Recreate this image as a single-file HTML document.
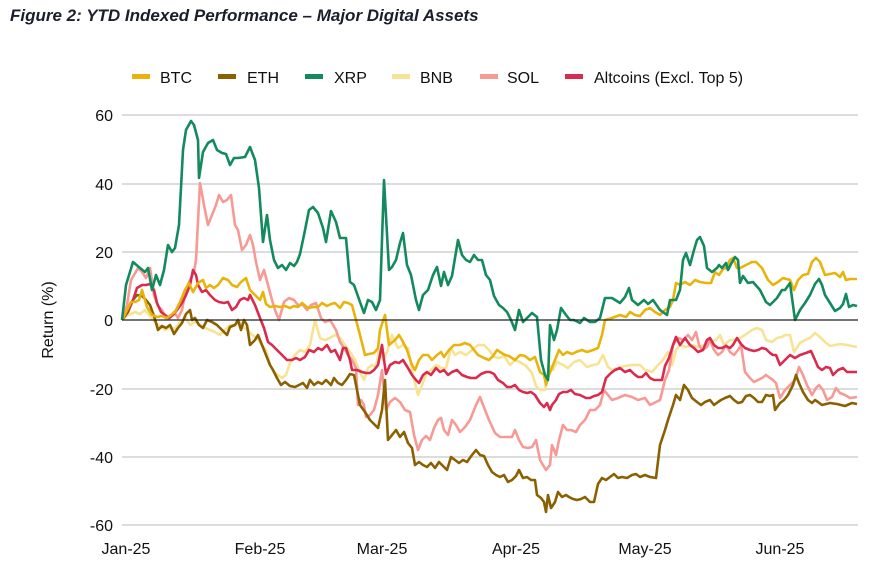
<!DOCTYPE html>
<html><head><meta charset="utf-8"><style>
html,body{margin:0;padding:0;background:#fff;}
svg{display:block;font-family:"Liberation Sans",Arial,sans-serif;}
</style></head><body>
<svg width="884" height="575" viewBox="0 0 884 575" xmlns="http://www.w3.org/2000/svg">
<text x="10" y="21" font-size="17" font-weight="bold" font-style="italic" fill="#1b1f2b">Figure 2: YTD Indexed Performance – Major Digital Assets</text>
<g font-size="16" fill="#111">
<rect x="132" y="74" width="18" height="5" fill="#e8b40c"/><text x="160" y="83">BTC</text>
<rect x="218" y="74" width="18" height="5" fill="#8a6000"/><text x="247" y="83">ETH</text>
<rect x="305" y="74" width="18" height="5" fill="#138a5e"/><text x="334" y="83">XRP</text>
<rect x="392" y="74" width="18" height="5" fill="#f7e394"/><text x="420" y="83">BNB</text>
<rect x="480" y="74" width="18" height="5" fill="#f79a96"/><text x="507" y="83">SOL</text>
<rect x="565" y="74" width="18" height="5" fill="#d92b4e"/><text x="594" y="83">Altcoins (Excl. Top 5)</text>
</g>
<g stroke="#d0d0d0" stroke-width="1.5">
<line x1="122" x2="858" y1="115" y2="115"/><line x1="122" x2="858" y1="184" y2="184"/><line x1="122" x2="858" y1="252" y2="252"/><line x1="122" x2="858" y1="389" y2="389"/><line x1="122" x2="858" y1="457" y2="457"/><line x1="122" x2="858" y1="525" y2="525"/>
</g>
<g font-size="16" fill="#111" text-anchor="end">
<text x="113" y="121">60</text><text x="113" y="190">40</text><text x="113" y="258">20</text><text x="113" y="326">0</text><text x="113" y="395">-20</text><text x="113" y="463">-40</text><text x="113" y="531">-60</text>
</g>
<text transform="translate(53,320) rotate(-90)" font-size="16" fill="#111" text-anchor="middle">Return (%)</text>
<g font-size="16" fill="#111" text-anchor="middle">
<text x="126" y="554">Jan-25</text><text x="260" y="554">Feb-25</text><text x="382" y="554">Mar-25</text><text x="516" y="554">Apr-25</text><text x="645" y="554">May-25</text><text x="780" y="554">Jun-25</text>
</g>
<g fill="none" stroke-width="2.6" stroke-linejoin="round">
<polyline stroke="#f7e394" points="122,320 128,315 135,312 140,314 145,310 150,316 155,322 160,326 165,330 170,327 175,329 180,322 186,318 190,325 195,322 200,325 205,328 210,330 215,332 220,335 225,330 230,325 235,325 240,322 244,328 248,330 252,335 257,338 262,345 266,350 270,365 274,372 278,375 282,378 286,375 290,363 295,355 300,350 305,352 310,345 315,320 320,338 325,340 330,338 335,335 340,338 345,345 350,352 355,360 360,372 364,380 368,368 372,365 376,367 379,350 383,360 387,352 392,335 398,348 403,345 408,348 413,375 418,395 422,385 426,375 431,370 436,365 441,368 446,368 451,348 455,355 460,352 466,355 472,350 478,345 484,345 489,350 494,357 499,358 504,356 510,365 515,360 520,362 526,366 532,373 536,386 540,390 545,390 549,365 553,370 557,362 563,365 568,368 574,362 580,360 587,367 593,365 598,364 603,355 608,367 612,370 618,368 625,366 632,365 640,365 645,370 652,372 658,365 663,360 668,352 672,365 676,350 680,345 686,347 692,345 698,347 704,345 710,342 716,340 720,335 724,345 730,340 735,340 740,338 745,335 752,330 757,328 762,330 766,340 772,342 777,338 782,337 785,335 790,335 794,352 800,343 805,340 810,338 815,333 820,337 825,342 830,346 835,345 840,344 847,345 857,347"/>
<polyline stroke="#f79a96" points="122,320 127,305 131,280 134,275 138,268 142,272 146,278 150,268 154,295 158,306 162,310 166,318 170,318 174,312 178,318 182,310 186,290 190,280 194,272 196,260 200,183 204,205 208,225 212,215 216,205 219,195 223,202 227,200 231,195 235,225 238,230 242,250 246,245 250,235 253,245 256,262 260,280 264,270 268,285 272,300 275,310 279,320 284,302 289,298 294,300 298,305 303,305 307,310 311,305 316,303 321,318 325,322 330,320 336,330 340,342 344,348 348,355 352,360 356,368 358,405 361,400 364,405 366,417 370,415 374,410 378,395 382,370 386,410 390,402 395,398 400,402 405,410 410,412 414,435 418,450 422,440 426,436 430,440 434,428 438,420 441,418 444,430 448,435 452,420 456,425 460,432 465,427 470,420 476,405 480,397 485,410 489,420 495,433 500,437 506,437 512,437 515,430 519,440 523,447 528,448 532,447 536,440 540,460 546,470 550,465 552,445 556,455 559,440 563,425 567,430 571,430 576,432 580,425 585,420 590,410 595,410 600,405 604,390 608,395 612,400 618,398 625,395 632,397 638,400 645,398 650,405 656,402 660,400 665,380 669,370 673,345 678,338 683,340 688,335 692,340 696,332 699,345 702,350 707,347 710,340 714,350 718,355 722,352 726,345 730,352 734,355 738,350 741,345 745,372 750,378 754,382 758,380 762,378 766,375 770,378 773,380 776,383 780,398 785,390 790,385 795,380 799,367 803,375 807,385 812,395 816,388 819,385 823,390 827,400 832,397 836,388 840,393 845,395 850,398 857,397"/>
<polyline stroke="#8a6000" points="122,320 128,312 133,300 137,295 142,296 146,300 150,305 154,316 158,330 162,326 166,328 170,325 174,334 178,328 182,323 186,314 190,310 192,320 195,318 199,325 203,328 207,320 212,322 217,325 222,330 227,335 230,327 235,325 238,320 241,330 244,320 247,325 250,345 255,340 258,335 262,345 266,355 270,365 273,370 277,378 281,385 285,382 290,386 295,387 299,385 303,383 307,388 310,380 314,385 318,382 322,384 326,380 331,385 334,378 338,383 342,385 346,380 350,374 354,375 357,390 360,405 365,412 370,420 375,425 378,428 382,410 385,380 388,440 392,435 396,430 400,437 404,432 408,443 412,448 415,465 419,462 423,465 427,467 431,463 435,468 439,462 443,466 447,470 451,457 455,460 459,463 463,460 467,462 472,455 476,450 480,455 484,456 488,465 492,472 496,475 500,477 504,475 508,482 512,480 516,476 519,470 523,478 527,477 531,480 535,480 537,495 541,498 544,502 546,512 548,495 551,508 555,502 558,492 562,497 566,495 569,497 573,499 577,500 581,499 585,497 590,502 594,502 598,484 602,478 606,480 610,477 614,474 618,478 622,477 627,478 632,475 636,474 640,477 645,475 650,477 656,478 660,445 665,430 668,420 673,405 676,395 680,400 684,385 688,390 692,398 697,402 701,405 705,402 710,400 714,405 718,402 721,400 725,398 730,396 734,400 738,403 742,402 746,396 750,395 754,398 758,402 762,402 766,395 770,396 773,395 775,410 780,403 784,400 788,395 793,385 796,375 799,383 803,392 808,400 812,403 815,400 818,402 822,405 830,403 837,404 845,406 852,403 857,404"/>
<polyline stroke="#d92b4e" points="122,320 128,310 133,300 137,288 142,285 146,285 150,284 154,290 157,303 161,312 165,315 169,318 173,315 177,310 182,303 186,295 190,285 193,270 196,275 198,285 202,292 206,290 210,295 215,300 219,302 224,303 228,302 232,310 236,307 240,300 244,298 248,300 250,295 255,305 260,318 264,328 268,342 272,345 277,350 282,355 287,360 292,360 296,358 300,360 305,357 309,350 314,352 318,348 322,350 327,345 331,352 335,350 340,360 343,348 346,348 350,360 352,370 357,370 362,372 366,373 370,373 374,370 378,365 382,345 386,374 390,365 395,362 399,363 403,360 408,368 412,375 416,380 419,383 423,375 427,372 431,375 436,368 440,372 444,370 448,375 452,372 457,370 462,375 467,377 471,378 476,378 481,374 486,372 490,372 494,374 498,380 503,383 507,387 511,387 515,385 519,390 523,392 527,393 531,392 535,395 540,403 544,407 547,403 550,410 552,405 556,400 559,394 563,392 567,392 571,390 575,394 580,395 586,398 590,398 594,396 598,395 602,392 606,378 611,373 615,370 620,368 625,372 630,370 634,374 638,377 642,377 646,373 650,378 654,380 658,380 662,380 665,366 669,358 673,345 676,337 680,345 685,338 690,345 694,348 698,352 703,350 707,340 710,338 714,345 718,348 722,348 726,346 730,348 733,345 737,338 741,344 745,348 750,350 754,351 758,350 762,348 766,349 770,353 773,355 776,355 780,365 785,360 790,355 795,358 800,355 806,353 811,351 815,360 818,367 822,370 826,367 830,368 833,375 838,370 843,368 847,372 852,372 857,372"/>
<polyline stroke="#e8b40c" points="122,320 127,310 131,302 135,302 139,300 142,290 147,307 152,315 157,317 162,316 167,318 171,315 175,312 180,302 185,290 189,283 193,292 198,283 203,280 206,288 210,285 214,288 218,285 223,278 228,280 232,285 237,287 241,282 246,278 250,290 255,295 260,300 263,292 266,304 270,307 275,306 280,307 285,306 290,308 294,306 298,307 302,303 308,308 314,307 318,307 322,303 327,306 331,304 335,303 340,308 344,302 348,303 352,305 356,320 360,335 365,355 369,354 374,353 378,348 380,330 385,315 389,345 395,340 399,335 402,340 407,350 412,365 415,370 419,360 423,355 428,355 432,360 437,355 441,352 444,357 449,350 454,345 460,345 465,343 470,345 474,350 478,355 484,358 489,360 493,356 497,350 500,352 505,355 509,356 515,360 520,355 525,356 530,360 535,357 540,372 544,375 546,385 549,375 553,365 555,360 559,350 563,355 567,352 572,354 576,352 582,350 587,352 593,350 598,348 602,335 605,320 612,318 620,315 626,317 630,312 635,315 640,316 645,310 650,308 655,312 660,315 665,310 670,307 673,300 676,283 680,285 685,282 690,285 695,280 700,282 706,283 711,283 715,272 719,275 723,269 726,268 730,260 733,258 737,268 740,268 746,265 752,262 756,262 762,268 768,280 773,285 778,282 783,278 790,280 794,290 798,280 803,275 808,274 812,262 816,258 820,262 825,275 830,274 835,273 840,277 843,272 846,280 850,279 857,279"/>
<polyline stroke="#138a5e" points="122,320 126,285 133,262 140,268 145,272 148,268 152,290 156,275 160,285 164,270 168,245 172,252 175,248 179,225 183,150 186,130 191,121 194,125 198,140 199,178 203,152 208,143 213,140 217,150 222,153 226,154 230,165 234,158 238,158 245,157 250,147 255,160 259,188 263,242 267,215 270,240 274,260 278,268 282,265 286,270 290,263 294,266 297,262 300,254 304,235 309,210 313,207 318,213 323,228 326,242 331,211 336,222 340,238 346,238 350,282 354,285 360,302 364,313 368,300 372,302 376,310 380,300 384,180 389,270 392,267 396,260 400,243 403,233 407,265 411,275 416,300 419,310 423,295 428,290 433,275 437,267 441,286 444,272 448,285 452,276 458,240 462,255 466,260 470,262 474,255 478,260 482,260 486,275 490,280 494,296 499,305 503,308 507,312 511,320 515,330 519,310 523,322 527,318 532,313 537,317 541,360 545,375 548,380 550,325 554,340 557,330 561,308 566,315 570,320 574,320 580,323 584,318 590,322 595,322 600,318 605,298 612,298 620,303 625,297 629,288 632,300 638,305 644,300 648,304 653,300 660,310 667,315 670,300 676,300 680,290 683,260 686,253 690,265 694,250 697,240 700,237 704,246 707,268 712,272 717,268 719,265 722,268 726,263 728,270 731,264 735,257 738,260 740,283 743,276 748,283 753,282 760,290 766,302 770,305 777,298 782,290 785,290 790,283 795,320 800,310 805,303 810,295 815,284 819,279 822,285 825,295 830,303 835,311 840,308 843,304 846,294 849,307 853,305 857,306"/>
</g>
<line x1="122" x2="858" y1="320" y2="320" stroke="#222" stroke-width="1.3"/>
</svg>
</body></html>
